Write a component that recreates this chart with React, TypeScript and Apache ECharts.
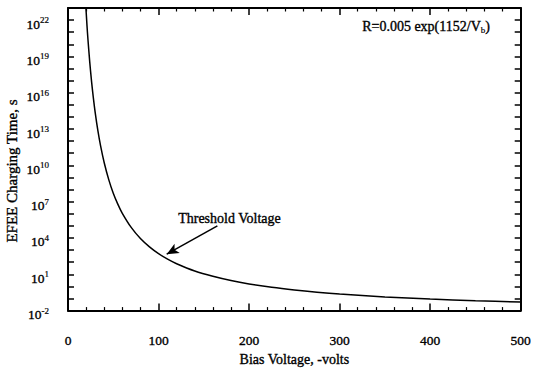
import React, { useEffect, useRef } from "react";
import * as echarts from "echarts";

// Bias voltage (-volts) and log10 of the EFEE charging time (s)
const biasVoltage = [19.8, 21, 22, 24, 26, 28, 30, 33, 36, 40, 45, 50, 55, 60, 70, 80, 90, 100, 110, 120, 140, 160, 180, 200, 225, 250, 275, 300, 350, 400, 450, 500];
const logChargingTime = [23.0, 21.52, 20.44, 18.55, 16.94, 15.57, 14.38, 12.86, 11.60, 10.21, 8.82, 7.70, 6.80, 6.04, 4.85, 3.95, 3.26, 2.70, 2.25, 1.87, 1.27, 0.83, 0.48, 0.20, -0.08, -0.30, -0.48, -0.63, -0.87, -1.05, -1.19, -1.30];

// Threshold-voltage arrow: tail and head in data coordinates
const arrowTail = [165, 5.0];
const arrowHead = [109, 2.66];

const xTicks = [0, 100, 200, 300, 400, 500];
const yLabelExponents = [-2, 1, 4, 7, 10, 13, 16, 19, 22];

const FONT = "'Liberation Serif', 'Times New Roman', serif";
// a thin outline gives the serif text a heavier, printed look
const INK = { textBorderColor: "#000", textBorderWidth: 0.35 };

export default function App() {
  const ref = useRef<HTMLDivElement>(null);

  useEffect(() => {
    if (!ref.current) return;
    const chart = echarts.init(ref.current, undefined, { renderer: "svg" });
    const axisLine = { show: true, onZero: false, lineStyle: { color: "#000", width: 2 } };

    chart.setOption({
      animation: false,
      backgroundColor: "#fff",
      textStyle: { fontFamily: FONT, color: "#000" },
      grid: { left: 68, right: 12, top: 8, bottom: 54 },
      xAxis: [
        {
          type: "value",
          min: xTicks[0],
          max: xTicks[xTicks.length - 1],
          interval: 100,
          position: "bottom",
          axisLine,
          axisTick: { show: true, inside: true, length: 7, lineStyle: { color: "#000", width: 1.5 } },
          minorTick: { show: true, splitNumber: 5, length: 3.5, lineStyle: { color: "#000", width: 1.2 } },
          splitLine: { show: false },
          axisLabel: { color: "#000", fontFamily: FONT, fontSize: 13.5, margin: 23, ...INK },
          name: "Bias Voltage, -volts",
          nameLocation: "middle",
          nameGap: 39,
          nameTextStyle: { color: "#000", fontFamily: FONT, fontSize: 14, ...INK },
        },
        {
          type: "value",
          min: xTicks[0],
          max: xTicks[xTicks.length - 1],
          interval: 100,
          position: "top",
          axisLine,
          axisTick: { show: true, inside: true, length: 7, lineStyle: { color: "#000", width: 1.5 } },
          minorTick: { show: true, splitNumber: 5, length: 3.5, lineStyle: { color: "#000", width: 1.2 } },
          splitLine: { show: false },
          axisLabel: { show: false },
        },
      ],
      yAxis: [
        {
          type: "value",
          min: -2,
          max: 23,
          interval: 1,
          position: "left",
          axisLine,
          axisTick: { show: true, inside: true, length: 6, lineStyle: { color: "#000", width: 1.5 } },
          splitLine: { show: false },
          axisLabel: {
            margin: 19,
            padding: [8, 0, 0, 0],
            formatter: (v: number) =>
              yLabelExponents.includes(v) ? `{b|10}{s|${v}}` : "",
            rich: {
              b: { fontFamily: FONT, fontSize: 13.5, color: "#000", ...INK },
              s: { fontFamily: FONT, fontSize: 9, color: "#000", padding: [0, 0, 8, 0], textBorderColor: "#000", textBorderWidth: 0.2 },
            },
          },
        },
        {
          type: "value",
          min: -2,
          max: 23,
          interval: 1,
          position: "right",
          axisLine,
          axisTick: { show: true, inside: true, length: 6, lineStyle: { color: "#000", width: 1.5 } },
          splitLine: { show: false },
          axisLabel: { show: false },
        },
      ],
      series: [
        {
          type: "line",
          xAxisIndex: 0,
          yAxisIndex: 0,
          data: biasVoltage.map((v, i) => [v, logChargingTime[i]]),
          smooth: 0.3,
          showSymbol: false,
          lineStyle: { color: "#000", width: 1.5 },
          clip: true,
          markLine: {
            silent: true,
            symbol: ["none", "arrow"],
            symbolSize: [8, 12],
            label: { show: false },
            lineStyle: { color: "#000", width: 1.5, type: "solid" },
            data: [[{ coord: arrowTail }, { coord: arrowHead }]],
          },
        },
      ],
      graphic: [
        {
          type: "text",
          x: 12,
          y: 171,
          rotation: Math.PI / 2,
          style: {
            text: "EFEE Charging Time, s",
            fontFamily: FONT,
            fontSize: 15,
            fill: "#000",
            stroke: "#000",
            lineWidth: 0.35,
            align: "center",
            verticalAlign: "middle",
          },
        },
        {
          type: "text",
          left: 362,
          top: 19,
          style: {
            text: "{n|R=0.005 exp(1152/V}{sub|b}{n|)}",
            rich: {
              n: { fontFamily: FONT, fontSize: 14, fill: "#000", stroke: "#000", lineWidth: 0.35 },
              sub: { fontFamily: FONT, fontSize: 9, fill: "#000", padding: [8, 0, 0, 0], stroke: "#000", lineWidth: 0.2 },
            },
          },
        },
        {
          type: "text",
          left: 178,
          top: 211,
          style: { text: "Threshold Voltage", fontFamily: FONT, fontSize: 14, fill: "#000", stroke: "#000", lineWidth: 0.35 },
        },
      ],
    });
    return () => chart.dispose();
  }, []);

  return <div ref={ref} style={{ width: 534, height: 372, position: "absolute", left: 0, top: 0 }} />;
}
